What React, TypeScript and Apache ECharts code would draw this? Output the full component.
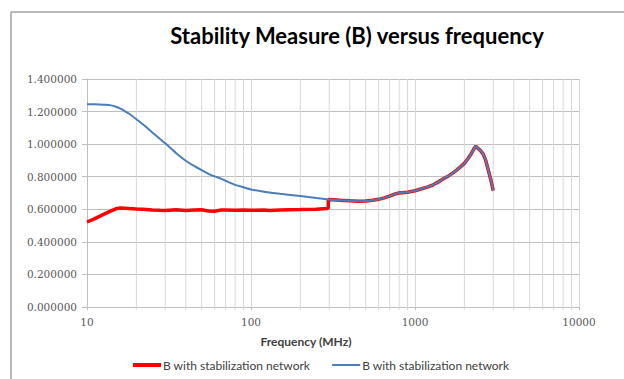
import React, { useEffect, useRef } from 'react';
import * as echarts from 'echarts';

const chartTitle = 'Stability Measure (B) versus frequency';
const xAxisTitle = 'Frequency (MHz)';
const legendLabel = 'B with stabilization network';

const freqBlue = [10, 11, 12, 13, 14, 15, 16, 17, 18, 20, 22, 25, 28, 30, 35, 40, 45, 50, 55, 60, 65, 70, 80, 90, 100, 120, 150, 200, 250, 300, 350, 400, 450, 500, 550, 600, 650, 700, 750, 800, 900, 1000, 1100, 1200, 1300, 1400, 1500, 1600, 1700, 1800, 1900, 2000, 2100, 2200, 2300, 2350, 2400, 2500, 2600, 2700, 2800, 2900, 3000];
const valuesBlue = [1.245, 1.245, 1.244, 1.242, 1.238, 1.23, 1.218, 1.203, 1.188, 1.153, 1.12, 1.072, 1.03, 1.005, 0.944, 0.898, 0.866, 0.84, 0.818, 0.802, 0.79, 0.775, 0.75, 0.735, 0.722, 0.708, 0.695, 0.681, 0.669, 0.66, 0.655, 0.652, 0.65, 0.651, 0.655, 0.661, 0.67, 0.681, 0.693, 0.7, 0.705, 0.714, 0.726, 0.738, 0.752, 0.77, 0.789, 0.805, 0.822, 0.842, 0.862, 0.882, 0.91, 0.94, 0.975, 0.988, 0.978, 0.962, 0.94, 0.9, 0.84, 0.78, 0.715];

const freqRed = [10, 11, 12, 13, 14, 15, 16, 17, 18, 20, 22, 25, 28, 30, 35, 40, 45, 50, 55, 60, 65, 70, 80, 90, 100, 120, 130, 150, 200, 250, 290, 296, 296, 300, 350, 400, 450, 500, 550, 600, 650, 700, 750, 800, 900, 1000, 1100, 1200, 1300, 1400, 1500, 1600, 1700, 1800, 1900, 2000, 2100, 2200, 2300, 2350, 2400, 2500, 2600, 2700, 2800, 2900, 3000];
const valuesRed = [0.522, 0.54, 0.558, 0.575, 0.59, 0.603, 0.608, 0.607, 0.605, 0.602, 0.6, 0.596, 0.594, 0.593, 0.597, 0.593, 0.596, 0.597, 0.59, 0.588, 0.595, 0.596, 0.594, 0.595, 0.594, 0.596, 0.592, 0.596, 0.598, 0.6, 0.605, 0.607, 0.658, 0.66, 0.655, 0.652, 0.65, 0.651, 0.655, 0.661, 0.67, 0.681, 0.693, 0.7, 0.705, 0.714, 0.726, 0.738, 0.752, 0.77, 0.789, 0.805, 0.822, 0.842, 0.862, 0.882, 0.91, 0.94, 0.975, 0.988, 0.978, 0.962, 0.94, 0.9, 0.84, 0.78, 0.715];

const minorGridFreqs = [20, 30, 40, 50, 60, 70, 80, 90, 200, 300, 400, 500, 600, 700, 800, 900, 2000, 3000, 4000, 5000, 6000, 7000, 8000, 9000];

export default function App() {
  const ref = useRef<HTMLDivElement>(null);
  useEffect(() => {
    if (!ref.current) return;
    const chart = echarts.init(ref.current, undefined, { renderer: 'svg' });
    const labelColor = '#595959';
    chart.setOption({
      animation: false,
      backgroundColor: '#ffffff',
      grid: { left: 87, right: 45, top: 79, bottom: 72, containLabel: false },
      graphic: [
        { type: 'line', shape: { x1: 11, y1: 12, x2: 624, y2: 12 }, style: { stroke: '#a3a3a3', lineWidth: 1.5 }, silent: true },
        { type: 'line', shape: { x1: 11, y1: 12, x2: 11, y2: 379 }, style: { stroke: '#a3a3a3', lineWidth: 1.5 }, silent: true },
        {
          type: 'text', x: 357, y: 35, silent: true,
          style: { text: chartTitle, fontFamily: 'Lato', fontWeight: 'bold', fontSize: 22, fill: '#000000', align: 'center', verticalAlign: 'middle' },
        },
        {
          type: 'text', x: 306, y: 341, silent: true,
          style: { text: xAxisTitle, fontFamily: 'Lato', fontWeight: 'bold', fontSize: 12, fill: '#404040', align: 'center', verticalAlign: 'middle' },
        },
      ],
      legend: {
        left: 128,
        top: 354,
        itemWidth: 28,
        itemHeight: 12,
        itemGap: 22,
        data: [
          { name: 'red', icon: 'path://M0,0 M0,4 L28,4 L28,8 L0,8 Z M28,12' },
          { name: 'blue', icon: 'path://M0,0 M0,5 L28,5 L28,7 L0,7 Z M28,12' },
        ],
        itemStyle: { borderWidth: 0 },
        formatter: () => legendLabel,
        textStyle: { fontFamily: 'Lato', fontSize: 12, color: '#404040', padding: [0, 0, 0, -3] },
      },
      xAxis: {
        type: 'log',
        logBase: 10,
        min: 10,
        max: 10000,
        axisLine: { show: true, lineStyle: { color: '#bfbfbf', width: 1 } },
        axisTick: { show: true, length: 3, lineStyle: { color: '#bfbfbf' } },
        axisLabel: {
          margin: 9,
          fontFamily: 'DejaVu Serif',
          fontSize: 10.5,
          color: labelColor,
          formatter: (v: number) => String(Math.round(v)),
        },
        splitLine: { show: true, lineStyle: { color: '#d9d9d9', width: 1 } },
      },
      yAxis: {
        type: 'value',
        min: 0,
        max: 1.4,
        interval: 0.2,
        axisLine: { show: true, lineStyle: { color: '#bfbfbf', width: 1 } },
        axisTick: { show: true, length: 5, lineStyle: { color: '#bfbfbf' } },
        axisLabel: {
          margin: 10,
          fontFamily: 'DejaVu Serif',
          fontSize: 10.5,
          color: labelColor,
          formatter: (v: number) => v.toFixed(6),
        },
        splitLine: { show: true, lineStyle: { color: '#bfbfbf', width: 1 } },
      },
      series: [
        {
          type: 'custom',
          name: 'grid',
          silent: true,
          clip: false,
          z: 1,
          data: minorGridFreqs.map((f) => [f, 0]),
          encode: { x: 0, y: 1 },
          renderItem: (params: any, api: any) => {
            const f = api.value(0);
            const top = api.coord([f, 1.4]);
            const bot = api.coord([f, 0]);
            return {
              type: 'line',
              shape: { x1: top[0], y1: top[1], x2: bot[0], y2: bot[1] + 3 },
              style: { stroke: '#d9d9d9', lineWidth: 1 },
            };
          },
        },
        {
          type: 'line',
          name: 'red',
          symbol: 'none',
          showSymbol: false,
          z: 3,
          color: '#ff0000',
          lineStyle: { color: '#ff0000', width: 3.5 },
          data: freqRed.map((f, i) => [f, valuesRed[i]]),
        },
        {
          type: 'line',
          name: 'blue',
          symbol: 'none',
          showSymbol: false,
          smooth: 0.2,
          z: 4,
          color: '#4a7ebb',
          lineStyle: { color: '#4a7ebb', width: 2 },
          data: freqBlue.map((f, i) => [f, valuesBlue[i]]),
        },
      ],
    });
    return () => chart.dispose();
  }, []);
  return <div ref={ref} style={{ position: 'fixed', left: 0, top: 0, width: 624, height: 379 }} />;
}
